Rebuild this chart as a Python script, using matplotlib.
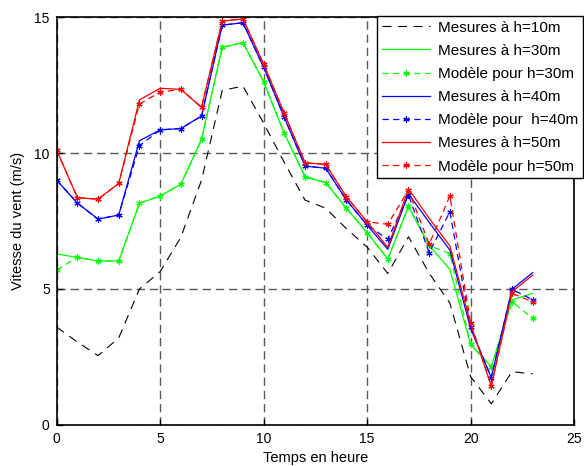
import matplotlib
matplotlib.use("Agg")
import matplotlib.pyplot as plt

plt.rcParams['font.family'] = ['Liberation Sans', 'DejaVu Sans']

# heures de la journee
heures = list(range(24))

# mesures et modele (m/s)
mes_10 = [3.6, 3.05, 2.55, 3.2, 5.0, 5.64, 6.9, 9.0, 12.3, 12.46, 11.1, 9.65,
          8.27, 7.97, 7.22, 6.54, 5.57, 6.92, 5.58, 4.48, 1.78, 0.78, 1.96, 1.88]

mes_30 = [6.29, 6.16, 6.03, 6.03, 8.15, 8.42, 8.85, 10.5, 13.88, 14.06, 12.62, 10.72,
          9.13, 8.91, 7.97, 7.07, 6.1, 8.04, 6.6, 5.72, 2.97, 2.14, 4.6, 4.84]
mod_30 = [5.7, 6.16, 6.03, 6.03, 8.15, 8.42, 8.85, 10.5, 13.88, 14.06, 12.62, 10.72,
          9.13, 8.91, 7.97, 7.07, 6.1, 8.04, 6.6, 6.3, 2.97, 2.14, 4.53, 3.92]

mes_40 = [9.0, 8.16, 7.57, 7.72, 10.45, 10.85, 10.9, 11.36, 14.7, 14.79, 13.15, 11.31,
          9.52, 9.44, 8.27, 7.35, 6.46, 8.5, 7.45, 6.43, 3.55, 1.74, 4.99, 5.6]
mod_40 = [9.0, 8.16, 7.57, 7.72, 10.27, 10.85, 10.9, 11.36, 14.7, 14.79, 13.15, 11.31,
          9.52, 9.44, 8.27, 7.35, 6.83, 8.46, 6.33, 7.84, 3.59, 1.74, 4.99, 4.6]

mes_50 = [10.11, 8.36, 8.3, 8.88, 11.95, 12.38, 12.34, 11.68, 14.85, 14.93, 13.27, 11.46,
          9.64, 9.58, 8.39, 7.47, 6.53, 8.68, 7.6, 6.58, 3.72, 1.43, 4.9, 5.51]
mod_50 = [10.11, 8.36, 8.3, 8.88, 11.8, 12.24, 12.34, 11.68, 14.85, 14.93, 13.27, 11.46,
          9.64, 9.58, 8.39, 7.47, 7.38, 8.64, 6.65, 8.42, 3.76, 1.43, 4.84, 4.53]

fig = plt.figure(figsize=(5.84, 4.66), dpi=100)
ax = fig.add_axes([0.097, 0.088, 0.886, 0.8755])

tiret = (0, (5, 3.5))
etoile = (6, 2, 0)  # asterisque comme sous matlab

ax.plot(heures, mes_10, color='k', lw=0.8, ls=(0, (8, 6)), label='Mesures à h=10m')
ax.plot(heures, mes_30, color='#00ff00', lw=0.9, label='Mesures à h=30m')
ax.plot(heures, mod_30, color='#00ff00', lw=0.9, ls=tiret, marker=etoile, ms=4.5,
        mew=0.8, label='Modèle pour h=30m')
ax.plot(heures, mes_40, color='#0000ff', lw=0.9, label='Mesures à h=40m')
ax.plot(heures, mod_40, color='#0000ff', lw=0.9, ls=tiret, marker=etoile, ms=4.5,
        mew=0.8, label='Modèle pour  h=40m')
ax.plot(heures, mes_50, color='#ff0000', lw=0.9, label='Mesures à h=50m')
ax.plot(heures, mod_50, color='#ff0000', lw=0.9, ls=tiret, marker=etoile, ms=4.5,
        mew=0.8, label='Modèle pour h=50m')

ax.set_xlim(0, 25)
ax.set_ylim(0, 15)
ax.set_xticks([0, 5, 10, 15, 20, 25])
ax.set_yticks([0, 5, 10, 15])
ax.grid(True, color='0.35', lw=1.0, ls=(0, (6, 3.5)))
ax.tick_params(direction='in', length=4, width=1, labelsize=10, pad=5)
for s in ax.spines.values():
    s.set_linewidth(1.2)

ax.set_xlabel('Temps en heure', fontsize=10.5, labelpad=4)
ax.set_ylabel('Vitesse du vent (m/s)', fontsize=10.5, labelpad=7)

leg = ax.legend(loc='upper left', bbox_to_anchor=(377 / 584, 1 - 16 / 466),
                bbox_transform=fig.transFigure, borderaxespad=0, fontsize=11,
                fancybox=False, framealpha=1, edgecolor='k', numpoints=1,
                handlelength=3.2, handletextpad=0.5, labelspacing=0.6,
                borderpad=0.3)
leg.get_frame().set_linewidth(1.0)

fig.savefig('out.png', dpi=100)
